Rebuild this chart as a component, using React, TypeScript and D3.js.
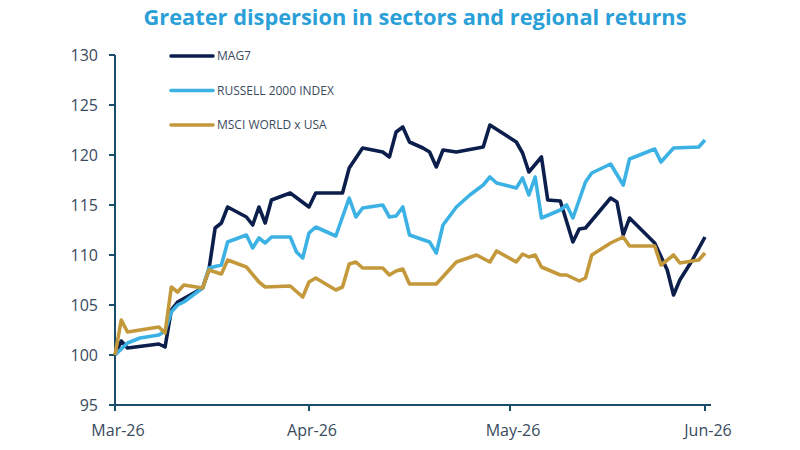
import * as d3 from 'd3';

// values, indexed to 100 at start of March 2026
const mag7: [string, number][] = [
    ['2026-03-01', 100], ['2026-03-02', 101.4], ['2026-03-03', 100.7], ['2026-03-08', 101.1],
    ['2026-03-09', 100.8], ['2026-03-10', 104.5], ['2026-03-11', 105.3], ['2026-03-15', 106.7],
    ['2026-03-16', 108.5], ['2026-03-17', 112.7], ['2026-03-18', 113.2], ['2026-03-19', 114.8],
    ['2026-03-22', 113.8], ['2026-03-23', 113.0], ['2026-03-24', 114.8], ['2026-03-25', 113.2],
    ['2026-03-26', 115.5], ['2026-03-29', 116.2], ['2026-04-01', 114.8], ['2026-04-02', 116.2],
    ['2026-04-06', 116.2], ['2026-04-07', 118.7], ['2026-04-09', 120.7], ['2026-04-12', 120.3],
    ['2026-04-13', 119.8], ['2026-04-14', 122.3], ['2026-04-15', 122.8], ['2026-04-16', 121.3],
    ['2026-04-18', 120.7], ['2026-04-19', 120.3], ['2026-04-20', 118.8], ['2026-04-21', 120.5],
    ['2026-04-23', 120.3], ['2026-04-27', 120.8], ['2026-04-28', 123.0], ['2026-05-02', 121.3],
    ['2026-05-03', 120.2], ['2026-05-04', 118.3], ['2026-05-06', 119.8], ['2026-05-07', 115.5],
    ['2026-05-09', 115.4], ['2026-05-11', 111.3], ['2026-05-12', 112.6], ['2026-05-13', 112.7],
    ['2026-05-17', 115.7], ['2026-05-18', 115.3], ['2026-05-19', 112.0], ['2026-05-20', 113.7],
    ['2026-05-24', 111.2], ['2026-05-26', 108.5], ['2026-05-27', 106.0], ['2026-05-28', 107.5],
    ['2026-05-30', 109.5], ['2026-06-01', 111.8],
];

const russell: [string, number][] = [
    ['2026-03-01', 100], ['2026-03-03', 101.2], ['2026-03-05', 101.7], ['2026-03-08', 102.0],
    ['2026-03-09', 102.4], ['2026-03-10', 104.3], ['2026-03-11', 105.0], ['2026-03-12', 105.3],
    ['2026-03-15', 106.7], ['2026-03-16', 108.7], ['2026-03-18', 109.0], ['2026-03-19', 111.3],
    ['2026-03-22', 112.0], ['2026-03-23', 110.7], ['2026-03-24', 111.7], ['2026-03-25', 111.2],
    ['2026-03-26', 111.8], ['2026-03-29', 111.8], ['2026-03-30', 110.3], ['2026-03-31', 109.7],
    ['2026-04-01', 112.2], ['2026-04-02', 112.8], ['2026-04-05', 111.9], ['2026-04-07', 115.7],
    ['2026-04-08', 113.8], ['2026-04-09', 114.7], ['2026-04-12', 115.0], ['2026-04-13', 113.8],
    ['2026-04-14', 113.9], ['2026-04-15', 114.8], ['2026-04-16', 112.0], ['2026-04-19', 111.3],
    ['2026-04-20', 110.2], ['2026-04-21', 113.0], ['2026-04-23', 114.8], ['2026-04-25', 116.0],
    ['2026-04-27', 117.0], ['2026-04-28', 117.8], ['2026-04-29', 117.2], ['2026-05-02', 116.7],
    ['2026-05-03', 117.7], ['2026-05-04', 116.0], ['2026-05-05', 117.8], ['2026-05-06', 113.7],
    ['2026-05-09', 114.5], ['2026-05-10', 115.0], ['2026-05-11', 113.7], ['2026-05-13', 117.3],
    ['2026-05-14', 118.2], ['2026-05-17', 119.1], ['2026-05-19', 117.0], ['2026-05-20', 119.6],
    ['2026-05-24', 120.6], ['2026-05-25', 119.3], ['2026-05-27', 120.7], ['2026-05-31', 120.8],
    ['2026-06-01', 121.5],
];

const msciWorldExUs: [string, number][] = [
    ['2026-03-01', 100], ['2026-03-02', 103.5], ['2026-03-03', 102.3], ['2026-03-08', 102.8],
    ['2026-03-09', 102.2], ['2026-03-10', 106.8], ['2026-03-11', 106.3], ['2026-03-12', 107.0],
    ['2026-03-15', 106.7], ['2026-03-16', 108.5], ['2026-03-18', 108.1], ['2026-03-19', 109.5],
    ['2026-03-22', 108.8], ['2026-03-24', 107.3], ['2026-03-25', 106.8], ['2026-03-29', 106.9],
    ['2026-03-31', 105.8], ['2026-04-01', 107.3], ['2026-04-02', 107.7], ['2026-04-05', 106.5],
    ['2026-04-06', 106.8], ['2026-04-07', 109.1], ['2026-04-08', 109.3], ['2026-04-09', 108.7],
    ['2026-04-12', 108.7], ['2026-04-13', 108.0], ['2026-04-14', 108.4], ['2026-04-15', 108.6],
    ['2026-04-16', 107.1], ['2026-04-20', 107.1], ['2026-04-23', 109.3], ['2026-04-26', 110.0],
    ['2026-04-28', 109.3], ['2026-04-29', 110.4], ['2026-05-02', 109.3], ['2026-05-03', 110.1],
    ['2026-05-04', 109.8], ['2026-05-05', 110.0], ['2026-05-06', 108.8], ['2026-05-09', 108.0],
    ['2026-05-10', 108.0], ['2026-05-12', 107.4], ['2026-05-13', 107.7], ['2026-05-14', 110.0],
    ['2026-05-17', 111.2], ['2026-05-19', 111.8], ['2026-05-20', 110.9], ['2026-05-24', 110.9],
    ['2026-05-25', 109.0], ['2026-05-27', 110.0], ['2026-05-28', 109.2], ['2026-05-31', 109.5],
    ['2026-06-01', 110.2],
];

const monthTicks = ['2026-03-01', '2026-04-01', '2026-05-01', '2026-06-01'];
const yTicks = [95, 100, 105, 110, 115, 120, 125, 130];

const series = [
    { name: 'MAG7', color: '#0c1f4c', data: mag7 },
    { name: 'RUSSELL 2000 INDEX', color: '#3cb1e4', data: russell },
    { name: 'MSCI WORLD x USA', color: '#c4993c', data: msciWorldExUs },
];

const width = 800;
const height = 450;
const axisColor = '#1b4d6b';
const textColor = '#3a4a5e';
const font = "'Open Sans', 'Noto Sans', sans-serif";

const parse = d3.timeParse('%Y-%m-%d');
const fmt = d3.timeFormat('%b-%y');

// month spacing in the source is not quite uniform, so use a polylinear scale
const x = d3
    .scaleTime()
    .domain(monthTicks.map(d => parse(d) as Date))
    .range([115, 309, 510, 705]);

const y = d3.scaleLinear().domain([95, 130]).range([405, 55]);

const line = d3
    .line<[string, number]>()
    .x(d => x(parse(d[0]) as Date))
    .y(d => y(d[1]));

const App = () => {
    return (
        <svg
            width={width}
            height={height}
            style={{ position: 'absolute', left: 0, top: 0, background: '#fff' }}
            fontFamily={font}
        >
            <text
                x={415}
                y={25}
                textAnchor="middle"
                fontSize={21.8}
                fontWeight={700}
                fill="#2a9fd8"
            >
                Greater dispersion in sectors and regional returns
            </text>

            {/* y axis */}
            <line x1={115} x2={115} y1={y(130)} y2={y(95)} stroke={axisColor} strokeWidth={2} />
            {yTicks.map(t => (
                <g key={t}>
                    <line x1={109} x2={115} y1={y(t)} y2={y(t)} stroke={axisColor} strokeWidth={2} />
                    <text x={98} y={y(t)} dy="0.35em" textAnchor="end" fontSize={16} fill={textColor}>
                        {t}
                    </text>
                </g>
            ))}

            {/* x axis */}
            <line x1={115} x2={711} y1={y(95)} y2={y(95)} stroke={axisColor} strokeWidth={2} />
            {monthTicks.map(m => {
                const px = x(parse(m) as Date);
                return (
                    <g key={m}>
                        <line x1={px} x2={px} y1={y(95)} y2={y(95) + 6} stroke={axisColor} strokeWidth={2} />
                        <text x={px + 3} y={436} textAnchor="middle" fontSize={16} fill={textColor}>
                            {fmt(parse(m) as Date)}
                        </text>
                    </g>
                );
            })}

            {series.map(s => (
                <path
                    key={s.name}
                    d={line(s.data) ?? ''}
                    fill="none"
                    stroke={s.color}
                    strokeWidth={3.6}
                    strokeLinejoin="round"
                />
            ))}

            {/* legend */}
            {series.map((s, i) => (
                <g key={s.name} transform={`translate(171,${56 + i * 34.5})`}>
                    <line x1={0} x2={42} y1={0} y2={0} stroke={s.color} strokeWidth={3.6} strokeLinecap="round" />
                    <text x={46} y={0} dy="0.35em" fontSize={12} fill={textColor}>
                        {s.name}
                    </text>
                </g>
            ))}
        </svg>
    );
};

export default App;
